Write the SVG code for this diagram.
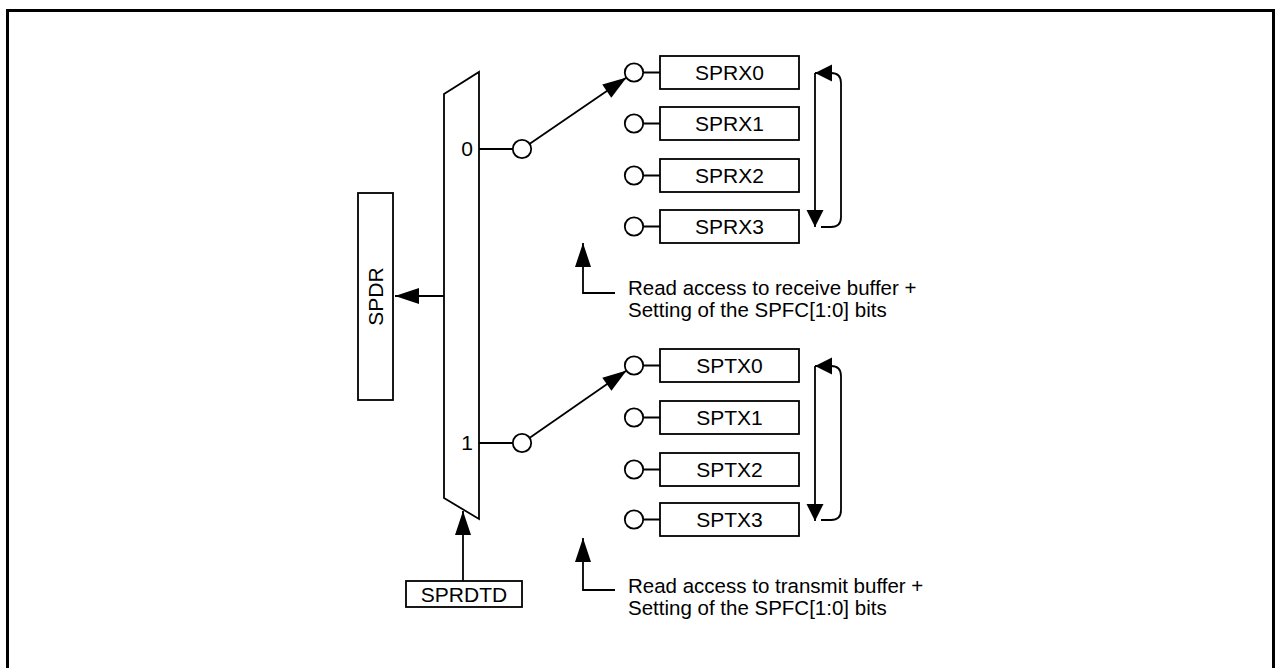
<svg xmlns="http://www.w3.org/2000/svg" width="1281" height="668" viewBox="0 0 1281 668">
<style>
.ln{fill:none;stroke:#000;stroke-width:1.8}
.bx{fill:#fff;stroke:#000;stroke-width:1.8}
.ci{fill:#fff;stroke:#000;stroke-width:1.8}
.t{font-family:"Liberation Sans",Arial,sans-serif;font-size:21px;fill:#000}
.n{font-size:20.5px}
.m{text-anchor:middle}
</style>
<defs>
<marker id="ah" markerUnits="userSpaceOnUse" markerWidth="24" markerHeight="16" refX="24" refY="8" orient="auto" overflow="visible"><path d="M0,0 L24,8 L0,16 z" fill="#000"/></marker>
<marker id="as" markerUnits="userSpaceOnUse" markerWidth="17" markerHeight="17" refX="17" refY="8.5" orient="auto" overflow="visible"><path d="M0,0 L17,8.5 L0,17 z" fill="#000"/></marker>
</defs>
<rect width="1281" height="668" fill="#fff"/>
<path d="M7.5,668 V10.5 H1273.5 V668" fill="none" stroke="#000" stroke-width="3"/>

<g id="connectors">
<path class="ln" d="M444,296 H395" marker-end="url(#ah)"/>
<path class="ln" d="M463,581 V511" marker-end="url(#ah)"/>
<path class="ln" d="M479,149 H513"/>
<path class="ln" d="M529.4,143.9 L626.6,77.6" marker-end="url(#ah)"/>
<path class="ln" d="M479,443 H513"/>
<path class="ln" d="M529.4,437.9 L626.6,370.6" marker-end="url(#ah)"/>
<path class="ln" d="M615,293 H583 V243" marker-end="url(#ah)"/>
<path class="ln" d="M615,590 H583 V538" marker-end="url(#ah)"/>
<path class="ln" d="M821,227 H831 Q841,227 841,217 V83 Q841,73 831,73 H815" marker-end="url(#as)"/>
<path class="ln" d="M815,73 V227" marker-end="url(#as)"/>
<path class="ln" d="M821,520 H831 Q841,520 841,510 V376 Q841,366 831,366 H815" marker-end="url(#as)"/>
<path class="ln" d="M815,366 V521" marker-end="url(#as)"/>
<path class="ln" d="M643,72.5 H660 M643,123.5 H660 M643,175.5 H660 M643,226.5 H660"/>
<path class="ln" d="M643,365.5 H660 M643,417.5 H660 M643,469.5 H660 M643,519.5 H660"/>
</g>

<g id="mux">
<polygon class="bx" points="444,94 479,72 479,519 444,498"/>
<text class="t m" x="467" y="156">0</text>
<text class="t m" x="467" y="450">1</text>
</g>
<g id="sel0"><circle class="ci" cx="522" cy="149" r="9.2"/></g>
<g id="sel1"><circle class="ci" cx="522" cy="443" r="9.2"/></g>

<g id="spdr">
<rect class="bx" x="358" y="193" width="35" height="207"/>
<text class="t m" transform="translate(383,296.5) rotate(-90)">SPDR</text>
</g>
<g id="sprdtd">
<rect class="bx" x="406" y="581" width="116" height="26"/>
<text class="t m" x="464" y="601.5">SPRDTD</text>
</g>

<g id="sprx0"><circle class="ci" cx="634" cy="72.5" r="9.2"/><rect class="bx" x="660" y="56" width="139" height="33"/><text class="t m" x="729.5" y="80">SPRX0</text></g>
<g id="sprx1"><circle class="ci" cx="634" cy="123.5" r="9.2"/><rect class="bx" x="660" y="107" width="139" height="33"/><text class="t m" x="729.5" y="131">SPRX1</text></g>
<g id="sprx2"><circle class="ci" cx="634" cy="175.5" r="9.2"/><rect class="bx" x="660" y="159" width="139" height="33"/><text class="t m" x="729.5" y="183">SPRX2</text></g>
<g id="sprx3"><circle class="ci" cx="634" cy="226.5" r="9.2"/><rect class="bx" x="660" y="210" width="139" height="33"/><text class="t m" x="729.5" y="234">SPRX3</text></g>

<g id="sptx0"><circle class="ci" cx="634" cy="365.5" r="9.2"/><rect class="bx" x="660" y="349" width="139" height="33"/><text class="t m" x="729.5" y="373">SPTX0</text></g>
<g id="sptx1"><circle class="ci" cx="634" cy="417.5" r="9.2"/><rect class="bx" x="660" y="401" width="139" height="33"/><text class="t m" x="729.5" y="425">SPTX1</text></g>
<g id="sptx2"><circle class="ci" cx="634" cy="469.5" r="9.2"/><rect class="bx" x="660" y="453" width="139" height="33"/><text class="t m" x="729.5" y="477">SPTX2</text></g>
<g id="sptx3"><circle class="ci" cx="634" cy="519.5" r="9.2"/><rect class="bx" x="660" y="503" width="139" height="33"/><text class="t m" x="729.5" y="527">SPTX3</text></g>

<g id="note-rx">
<text class="t n" x="628" y="295">Read access to receive buffer +</text>
<text class="t n" x="628" y="317">Setting of the SPFC[1:0] bits</text>
</g>
<g id="note-tx">
<text class="t n" x="628" y="593">Read access to transmit buffer +</text>
<text class="t n" x="628" y="615">Setting of the SPFC[1:0] bits</text>
</g>
</svg>
